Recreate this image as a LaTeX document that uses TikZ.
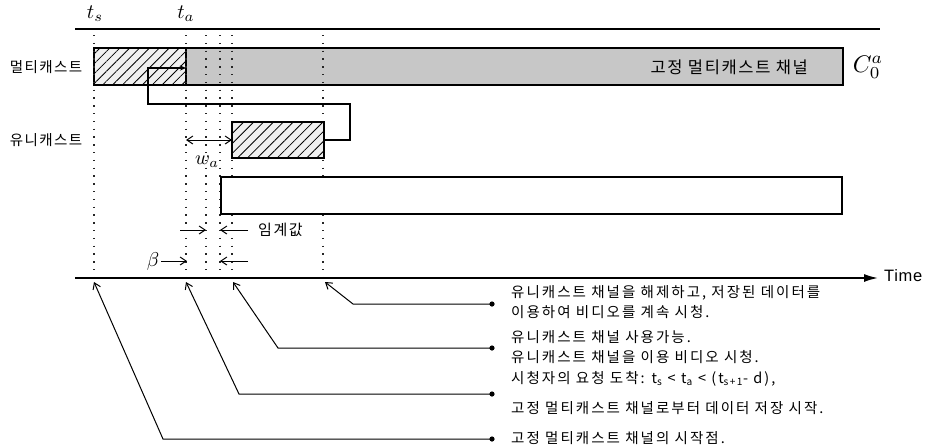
\documentclass[tikz,border=0pt]{standalone}
\usepackage{fontspec}
\newfontfamily\kr[LetterSpace=14]{Noto Sans CJK KR}
\newfontfamily\krl[LetterSpace=10]{Noto Sans CJK KR}
\newfontfamily\ar[LetterSpace=4]{Liberation Sans}
\usetikzlibrary{arrows.meta,patterns.meta}
\tikzset{
  thinline/.style={line width=1.1pt},
  dotv/.style={line width=1.3pt, dash pattern=on 1.3pt off 6.5pt, black!85},
  barb/.style={-{Straight Barb[length=6pt,width=8pt]}, line width=1pt},
  dbarb/.style={{Straight Barb[length=6pt,width=8pt]}-{Straight Barb[length=6pt,width=8pt]}, line width=1pt},
  krlbl/.style={font=\krl\fontsize{14.5}{16}\selectfont, inner sep=0},
  desc/.style={font=\kr\fontsize{14.5}{16}\selectfont, inner sep=0, anchor=west},
  hatchfill/.style={pattern={Lines[angle=45,distance=7pt,line width=0.8pt]}},
  boxnode/.style={inner sep=0, outer sep=0, anchor=north west, thinline},
  mathlbl/.style={inner sep=0},
}
\begin{document}
\begin{tikzpicture}[x=1pt,y=-1pt]
\useasboundingbox (0,0) rectangle (926,445);

% top line
\coordinate (tl) at (75,29);
\coordinate (tr) at (880,29);
\draw[line width=1.8pt] (tl) -- (tr);

% time labels
\node[mathlbl, scale=2.05] (ts) at (95,14) {$t_s$};
\node[mathlbl, scale=2.05] (ta) at (186,14) {$t_a$};

% row labels
\node[krlbl] (lmc) at (46,67) {멀티캐스트};
\node[krlbl] (luc) at (46,140) {유니캐스트};

% multicast bar
\node[boxnode, fill=black!22, minimum width=749pt, minimum height=37pt] (mc) at (94,48) {};
\node[boxnode, fill=black!6, minimum width=92pt, minimum height=37pt] (mch) at (94,48) {};
\path[hatchfill] (mch.north west) rectangle (mch.south east);
\draw[thinline] (mc.north west) rectangle (mc.south east);
\draw[thinline] (mch.north east) -- (mch.south east);
\node[font=\krl\fontsize{16.5}{18}\selectfont, inner sep=0, anchor=east] (fmc) at (808,67) {고정 멀티캐스트 채널};
\node[mathlbl, scale=2.4] (c0) at (868,67) {$C^a_0$};

% dotted vertical lines
\foreach \n/\x in {s/94,a/186,b/206,c/220,d/232,e/323}{
  \coordinate (top\n) at (\x,35);
  \coordinate (bot\n) at (\x,278);
  \draw[dotv] (top\n) -- (bot\n);
}

% unicast hatched box
\node[boxnode, fill=black!6, minimum width=92pt, minimum height=36pt] (uc) at (232,122) {};
\path[hatchfill] (uc.north west) rectangle (uc.south east);
\draw[thinline] (uc.north west) rectangle (uc.south east);

% white rectangle
\node[boxnode, draw, fill=white, minimum width=621pt, minimum height=37pt] (wr) at (221,177) {};

% return path
\coordinate (r1) at (350,104);
\coordinate (r2) at (148,68);
\draw[thinline, -{Stealth[length=6pt,width=5pt]}] (uc.east) -| (r1) -| (r2) -- (mch.east |- r2);

% w_a
\draw[dbarb] (bota |- uc.west) -- (uc.west);
\node[mathlbl, scale=2.0] (wa) at (207,162) {$w_a$};

% threshold
\coordinate (th1) at (180,230);
\coordinate (th2) at (248,230);
\draw[barb] (th1) -- (botb |- th1);
\draw[barb] (th2) -- (botc |- th2);
\node[krlbl, font=\krl\fontsize{15}{17}\selectfont, anchor=west] (thr) at (258,230) {임계값};

% beta
\coordinate (be1) at (161,261);
\coordinate (be2) at (248,261);
\node[mathlbl, scale=2.0] (beta) at (153,261) {$\beta$};
\draw[barb] (be1) -- (187,261);
\draw[barb] (be2) -- (botc |- be2);

% time axis
\coordinate (ax0) at (75,278);
\coordinate (ax1) at (878,278);
\draw[line width=1.6pt, -{Latex[length=14pt,width=8pt]}] (ax0) -- (ax1);
\node[font=\ar\fontsize{16.5}{18}\selectfont, inner sep=0, anchor=west] (time) at (884,276) {Time};

% leader lines
\foreach \i/\py/\kx/\qx in {1/439/163/94, 2/394/239/186, 3/348/278/233, 4/304/353/325}{
  \coordinate (p\i) at (492,\py);
  \coordinate (k\i) at (\kx,\py);
  \coordinate (q\i) at (\qx,282);
  \draw[barb] (p\i) -- (k\i) -- (q\i);
  \fill (p\i) circle (2.6);
}

% descriptions
\node[desc] (d4a) at (511,293) {유니캐스트 채널을 해제하고, 저장된 데이터를};
\node[desc] (d4b) at (511,312) {이용하여 비디오를 계속 시청.};
\node[desc] (d3a) at (511,337) {유니캐스트 채널 사용가능.};
\node[desc] (d3b) at (511,357) {유니캐스트 채널을 이용 비디오 시청.};
\node[desc] (d2a) at (511,379) {시청자의 요청 도착: t\textsubscript{s} < t\textsubscript{a} < (t\textsubscript{s+1}- d),};
\node[desc] (d2b) at (511,408) {고정 멀티캐스트 채널로부터 데이터 저장 시작.};
\node[desc] (d1a) at (511,438) {고정 멀티캐스트 채널의 시작점.};
\end{tikzpicture}
\end{document}
